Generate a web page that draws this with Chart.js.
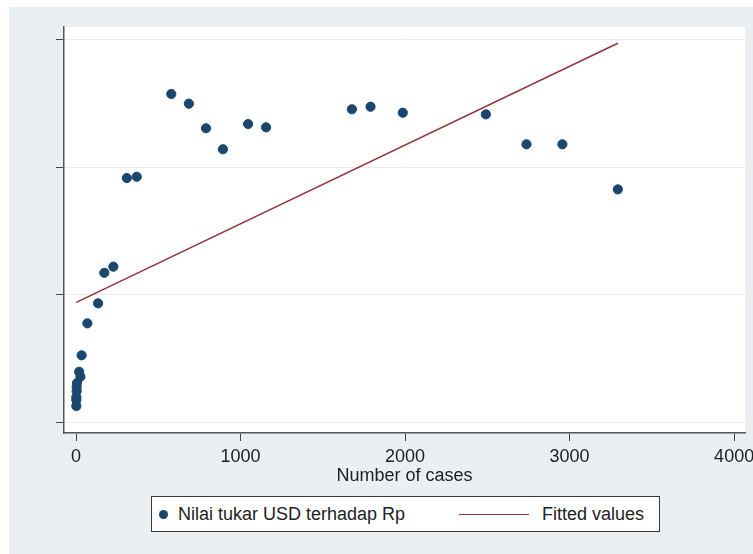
<!DOCTYPE html>
<html>
<head>
<meta charset="utf-8">
<script src="https://cdn.jsdelivr.net/npm/chart.js@4.4.0/dist/chart.umd.min.js"></script>
<style>
  html, body { margin: 0; padding: 0; background: #fff; }
  body { width: 753px; height: 554px; position: relative; overflow: hidden; font-family: "Liberation Sans", Arial, sans-serif; }
  #panel { position: absolute; left: 9px; top: 7px; width: 744px; height: 547px; background: #e9eff3; }
  #chart { position: absolute; left: 0; top: 0; }
  #legend { position: absolute; left: 142px; top: 489px; width: 507px; height: 34px; background: #fff; border: 1px solid #3a3a3a; }
  #legend .dot { position: absolute; left: 7px; top: 13px; width: 9px; height: 9px; border-radius: 50%; background: #1a476f; }
  #legend .lbl { position: absolute; top: 7px; font-size: 18px; line-height: 21px; color: #222; white-space: nowrap; }
  #legend .ln { position: absolute; left: 307px; top: 17px; width: 70px; height: 0; border-top: 1.5px solid #90353b; }
</style>
</head>
<body>
<div id="panel">
  <canvas id="chart" width="744" height="547"></canvas>
  <div id="legend">
    <div class="dot"></div><span class="lbl" id="lbl0" style="left:26px"></span>
    <div class="ln"></div><span class="lbl" id="lbl1" style="left:390px"></span>
  </div>
</div>
<script>
// --- Data ---
const cases = [2, 2, 2, 4, 4, 6, 19, 27, 34, 69, 134, 172, 227, 309, 369,
  579, 686, 790, 893, 1046, 1155, 1677, 1790, 1986, 2491, 2738, 2956, 3293];
const rates = [14126, 14173, 14196, 14243, 14275, 14306, 14395, 14356, 14524, 14775, 14932, 15172, 15220, 15916, 15926,
  16576, 16500, 16307, 16142, 16340, 16314, 16456, 16476, 16429, 16416, 16181, 16181, 15827];
const fitCases = [2, 3293];
const fitRates = [14940, 16974];
const xTicks = [0, 1000, 2000, 3000, 4000];
const yTicks = [14000, 15000, 16000, 17000];

const seriesLabel = 'Nilai tukar USD terhadap Rp';
const fitLabel = 'Fitted values';
const xTitle = 'Number of cases';

document.getElementById('lbl0').textContent = seriesLabel;
document.getElementById('lbl1').textContent = fitLabel;

const font = { family: '"Liberation Sans", Arial, sans-serif', size: 18 };

// white plot region behind the marks
const plotBg = {
  id: 'plotBg',
  beforeDraw(chart) {
    const { ctx, chartArea: a } = chart;
    ctx.save();
    ctx.fillStyle = '#ffffff';
    ctx.fillRect(a.left, a.top, a.right - a.left, a.bottom - a.top);
    ctx.restore();
  }
};

new Chart(document.getElementById('chart').getContext('2d'), {
  type: 'scatter',
  data: {
    datasets: [
      {
        label: seriesLabel,
        data: cases.map((c, i) => ({ x: c, y: rates[i] })),
        backgroundColor: '#1a476f',
        borderColor: '#1a476f',
        pointRadius: 4.6,
        pointHoverRadius: 4.6
      },
      {
        label: fitLabel,
        data: fitCases.map((c, i) => ({ x: c, y: fitRates[i] })),
        showLine: true,
        borderColor: '#90353b',
        borderWidth: 1.5,
        pointRadius: 0,
        order: -1
      }
    ]
  },
  options: {
    responsive: false,
    animation: false,
    layout: { padding: { top: 20, right: 8, left: 0, bottom: 67 } },
    plugins: { legend: { display: false }, tooltip: { enabled: false } },
    scales: {
      x: {
        type: 'linear',
        min: -73,
        max: 4066,
        afterBuildTicks: s => { s.ticks = xTicks.map(v => ({ value: v })); },
        afterFit: s => { s.height = 54; s.paddingLeft = 0; s.paddingRight = 0; },
        ticks: { font, color: '#222', padding: 5, maxRotation: 0, callback: v => String(v) },
        grid: { drawOnChartArea: false, drawTicks: true, tickLength: 8, tickColor: '#444', tickWidth: 1 },
        border: { color: '#555', width: 1.5 },
        title: { display: true, text: xTitle, font, color: '#222', padding: 0 }
      },
      y: {
        type: 'linear',
        min: 13914,
        max: 17102,
        afterBuildTicks: s => { s.ticks = yTicks.map(v => ({ value: v })); },
        afterFit: s => { s.width = 55; s.paddingTop = 0; s.paddingBottom = 0; },
        ticks: { display: false },
        grid: { color: '#e6ecef', lineWidth: 1, drawTicks: true, tickLength: 8, tickColor: '#444', tickWidth: 1 },
        border: { color: '#555', width: 1.5 }
      }
    }
  },
  plugins: [plotBg]
});
</script>
</body>
</html>
